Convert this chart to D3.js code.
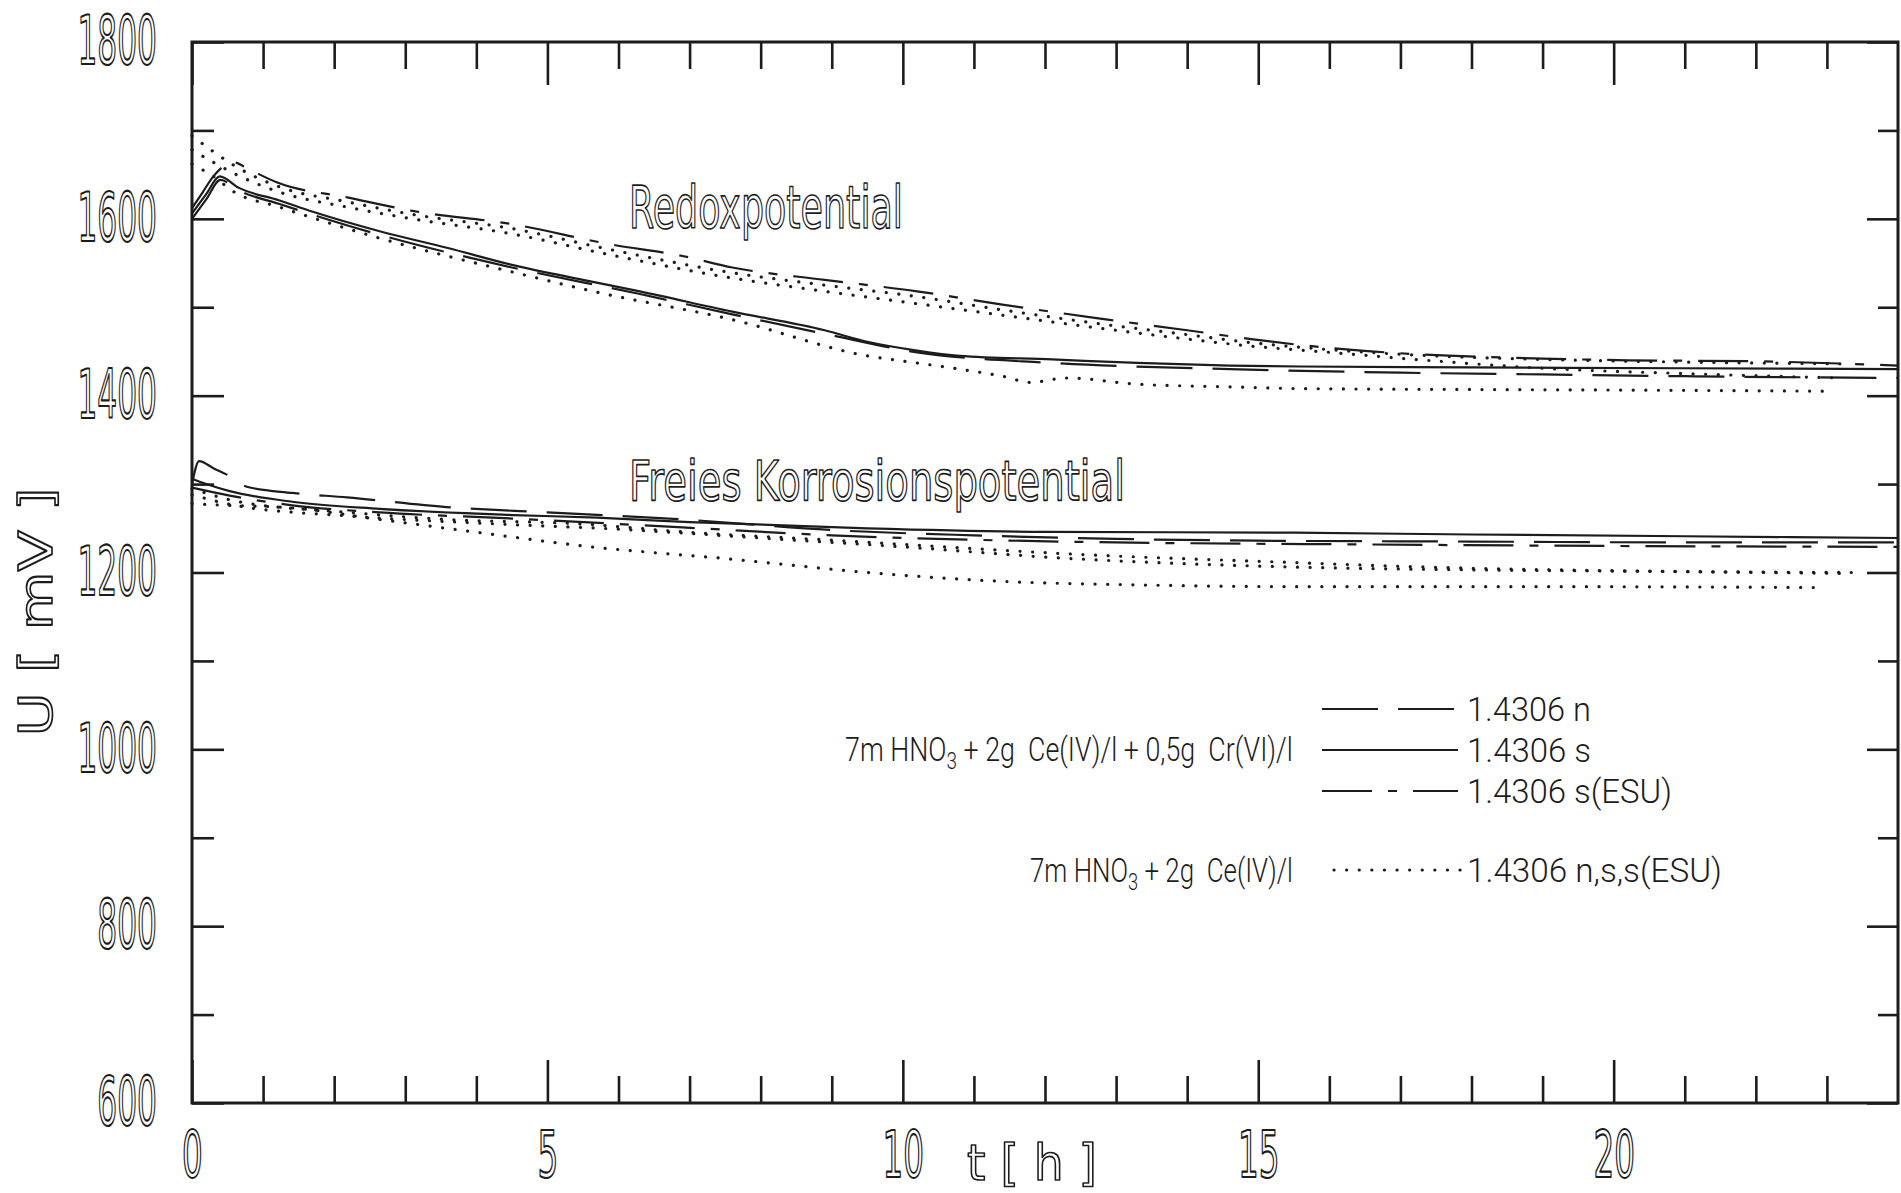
<!DOCTYPE html>
<html><head><meta charset="utf-8">
<script src="https://cdn.jsdelivr.net/npm/d3@7"></script>
<style>body{margin:0;background:#fff;} svg{display:block;} text{white-space:pre;}</style>
</head><body>
<svg id="c" width="1901" height="1193"></svg>
<script>
// ---------- data: [t (h), U (mV)] ----------
// Redoxpotential, 7m HNO3 + 2g Ce(IV)/l + 0,5g Cr(VI)/l
const redoxN = [[0,1600],[0.2,1622],[0.4,1644],[0.66,1632],[1.22,1617],[2.64,1582],[4.5,1545],[6.3,1515],[7.6,1492],[8.9,1470],[10.2,1449],[12.1,1437],[14.6,1430],[17,1426],[19,1424],[21,1422],[24,1420]];
const redoxS = [[0,1606],[0.2,1628],[0.39,1648],[0.66,1635],[1.22,1621],[1.7,1608],[2.64,1586],[3.6,1567],[4.5,1548],[5.5,1531],[6.3,1518],[7.6,1495],[8.9,1474],[9.5,1461],[10.2,1451],[10.8,1445],[12.1,1441],[13.3,1437],[14.6,1434],[15.6,1433],[18,1432],[21,1431],[24,1430]];
const redoxSESU = [[0,1612],[0.15,1630],[0.3,1648],[0.58,1664],[0.8,1656],[1.2,1641],[2.2,1624],[3.1,1609],[4.5,1594],[5.9,1571],[6.9,1558],[7.6,1545],[8.9,1531],[10.2,1518],[11.4,1503],[12.7,1488],[14,1474],[14.9,1464],[16,1454],[17.2,1447],[19,1442],[20.2,1440],[21.9,1439],[24,1434]];
// Redoxpotential, 7m HNO3 + 2g Ce(IV)/l (dotted)
const redoxDotN = [[0,1694],[0.3,1676],[0.6,1660],[1.2,1637],[2.2,1619],[3.1,1605],[4.5,1589],[5.9,1565],[7.6,1539],[8.9,1525],[10.2,1512],[11.4,1497],[12.7,1482],[14,1469],[14.9,1460],[16,1452],[17.2,1446],[19,1441],[21,1438],[23.2,1436]];
const redoxDotS = [[0,1678],[0.3,1664],[0.6,1651],[1.2,1631],[2.2,1613],[3.1,1600],[4.5,1583],[5.9,1559],[7.6,1533],[8.9,1518],[10.2,1504],[11.4,1491],[12.7,1477],[14,1464],[14.9,1456],[16,1449],[17.2,1441],[19,1431],[21,1425],[23.2,1420]];
const redoxDotSESU = [[0,1662],[0.3,1648],[0.6,1630],[1.2,1614],[2.6,1579],[4.5,1540],[5.7,1517],[7.6,1486],[9.5,1445],[10.2,1437],[10.8,1430],[11.4,1422],[11.8,1415],[12.3,1420],[13.3,1413],[14.6,1410],[15.6,1408],[18,1407],[21,1406],[23.1,1405]];
// Freies Korrosionspotential
const korrN = [[0,1300],[0.1,1326],[0.3,1318],[0.53,1309],[0.77,1297],[1.41,1290],[2.18,1285],[3.58,1274],[5,1268],[6.9,1260],[9,1248],[11,1242],[13,1238],[15,1236],[18,1235],[21,1234],[24,1234]];
const korrS = [[0,1306],[0.2,1300],[0.53,1292],[1.41,1280],[2.64,1272],[4.52,1265],[5.7,1262],[7,1257],[9.5,1250],[12,1246],[15.5,1245],[18,1243],[21,1241],[24,1239]];
const korrSESU = [[0,1296],[0.53,1287],[1.41,1276],[2.64,1268],[4.52,1261],[6.9,1251],[9,1242],[11,1237],[13,1234],[16,1232],[20,1230],[24,1229]];
const korrDotN = [[0,1295],[0.6,1281],[2.18,1268],[3.58,1260],[5.46,1255],[6.9,1246],[8.9,1237],[10.8,1228],[12.1,1222],[15.6,1211],[17,1207],[20,1202],[23.4,1200]];
const korrDotS = [[0,1288],[0.6,1276],[2.18,1264],[4,1256],[6,1249],[8,1239],[10,1229],[12.1,1217],[15.6,1206],[18,1203],[21,1201],[23.2,1199]];
const korrDotSESU = [[0,1278],[0.2,1277],[1.41,1273],[2.64,1260],[4.05,1245],[5.5,1230],[7.6,1215],[9.5,1200],[11.4,1190],[13.3,1186],[15.6,1184],[19,1184],[22.9,1183]];

// ticks and labels
const xMajorTicks = [0,5,10,15,20];
const xMinorTicks = [1,2,3,4,6,7,8,9,11,12,13,14,16,17,18,19,21,22,23];
const yMajorTicks = [600,800,1000,1200,1400,1600,1800];
const yMinorTicks = [700,900,1100,1300,1500,1700];
const curveLabels = ["Redoxpotential","Freies Korrosionspotential"];
const legendSeries = ["1.4306 n","1.4306 s","1.4306 s(ESU)","1.4306 n,s,s(ESU)"];

// ---------- drawing ----------
const svg = d3.select("#c");
const X0 = 192, X1 = 1898, Y0 = 42, Y1 = 1103;
const x = d3.scaleLinear().domain([0,24]).range([X0,X1]);
const y = d3.scaleLinear().domain([600,1800]).range([Y1,Y0]);
const ink = "#1c1c1c";

svg.append("rect").attr("x",X0).attr("y",Y0).attr("width",X1-X0).attr("height",Y1-Y0)
  .attr("fill","none").attr("stroke",ink).attr("stroke-width",3);

function axisStyle(g){ g.select(".domain").remove(); g.selectAll(".tick line").attr("stroke",ink).attr("stroke-width",2.6); }
const digitFont = "'DejaVu Sans', sans-serif";
function hollow(sel){ sel.attr("fill","#fff").attr("stroke",ink).attr("stroke-width",2.2).attr("stroke-linejoin","round"); }

// bottom
svg.append("g").attr("transform",`translate(0,${Y1})`)
  .call(d3.axisBottom(x).tickValues(xMinorTicks).tickSizeInner(-27).tickSizeOuter(0).tickFormat(""))
  .call(axisStyle);
const gxb = svg.append("g").attr("transform",`translate(0,${Y1})`)
  .call(d3.axisBottom(x).tickValues(xMajorTicks).tickSizeInner(-43).tickSizeOuter(0).tickPadding(28.5).tickFormat(d3.format("d")))
  .call(axisStyle);
const sxX = 0.51;
gxb.selectAll(".tick text").attr("font-family",digitFont).attr("font-size",64)
  .attr("transform",`scale(${sxX},1)`).call(hollow);
// top
svg.append("g").attr("transform",`translate(0,${Y0})`)
  .call(d3.axisTop(x).tickValues(xMinorTicks).tickSizeInner(-27).tickSizeOuter(0).tickFormat(""))
  .call(axisStyle);
svg.append("g").attr("transform",`translate(0,${Y0})`)
  .call(d3.axisTop(x).tickValues(xMajorTicks).tickSizeInner(-43).tickSizeOuter(0).tickFormat(""))
  .call(axisStyle);
// left
svg.append("g").attr("transform",`translate(${X0},0)`)
  .call(d3.axisLeft(y).tickValues(yMinorTicks).tickSizeInner(-22).tickSizeOuter(0).tickFormat(""))
  .call(axisStyle);
const gyl = svg.append("g").attr("transform",`translate(${X0},0)`)
  .call(d3.axisLeft(y).tickValues(yMajorTicks).tickSizeInner(-32).tickSizeOuter(0).tickPadding(35).tickFormat(d3.format("d")))
  .call(axisStyle);
const sxY = 0.46;
gyl.selectAll(".tick text").attr("font-family",digitFont).attr("font-size",68)
  .attr("x",-35/sxY).attr("transform",`scale(${sxY},1)`).call(hollow);
// right
svg.append("g").attr("transform",`translate(${X1},0)`)
  .call(d3.axisRight(y).tickValues(yMinorTicks).tickSizeInner(-20).tickSizeOuter(0).tickFormat(""))
  .call(axisStyle);
svg.append("g").attr("transform",`translate(${X1},0)`)
  .call(d3.axisRight(y).tickValues(yMajorTicks).tickSizeInner(-31).tickSizeOuter(0).tickFormat(""))
  .call(axisStyle);

// text helper: fit text to a measured width with a horizontal scale
function fitText(parent, x0, yb, w, build, style){
  const g = parent.append("g").attr("transform",`translate(${x0},${yb})`);
  const t = g.append("text").attr("x",0).attr("y",0);
  style(t); build(t);
  const bw = t.node().getComputedTextLength() || t.node().getBBox().width;
  t.attr("transform",`scale(${w/bw},1)`);
  return g;
}
const outline = t => t.attr("font-family","'DejaVu Sans', sans-serif").attr("fill","#fff").attr("stroke",ink).attr("stroke-width",1.7).attr("stroke-linejoin","round");
const thin = t => t.attr("font-family","Roboto, 'DejaVu Sans', sans-serif").attr("font-weight",300).attr("fill",ink);

fitText(svg, 967, 1180, 130, t=>t.text("t [ h ]"), t=>{outline(t); t.attr("font-size",50);});
{
  const g = svg.append("g").attr("transform","translate(52,612) rotate(-90)");
  const t = g.append("text").attr("text-anchor","middle").text("U [ mV ]");
  outline(t); t.attr("font-size",46);
  const bw = t.node().getComputedTextLength();
  t.attr("transform",`scale(${249/bw},1)`);
}

fitText(svg, 629, 228, 274, t=>t.text(curveLabels[0]), t=>{outline(t); t.attr("font-size",58);});
fitText(svg, 629, 500, 496, t=>t.text(curveLabels[1]), t=>{outline(t); t.attr("font-size",56);});

// series
const line = d3.line().x(d=>x(d[0])).y(d=>y(d[1])).curve(d3.curveMonotoneX);
const styles = {
  n:   {dash:"56 20", w:2.2},
  s:   {dash:null, w:2.2},
  esu: {dash:"50 16 9 16", w:2.2},
  dot: {dash:"0.1 12.5", w:3.2}
};
const series = [
  [redoxN,"n"],[redoxS,"s"],[redoxSESU,"esu"],
  [redoxDotN,"dot"],[redoxDotS,"dot"],[redoxDotSESU,"dot"],
  [korrN,"n"],[korrS,"s"],[korrSESU,"esu"],
  [korrDotN,"dot"],[korrDotS,"dot"],[korrDotSESU,"dot"]
];
svg.append("g").selectAll("path").data(series).join("path")
  .attr("d",d=>line(d[0])).attr("fill","none").attr("stroke",ink)
  .attr("stroke-width",d=>styles[d[1]].w)
  .attr("stroke-dasharray",d=>styles[d[1]].dash)
  .attr("stroke-linecap",d=>d[1]==="dot"?"round":"butt");

// legend
const legY = [709,750,791,870];
const legKeys = ["n","s","esu","dot"];
const legW = [124,124,205,255];
const lg = svg.append("g");
legKeys.forEach((k,i)=>{
  const xs = k==="dot" ? [1334,1461] : [1322,1458];
  lg.append("line").attr("x1",xs[0]).attr("x2",xs[1]).attr("y1",legY[i]).attr("y2",legY[i])
    .attr("stroke",ink).attr("stroke-width",styles[k].w).attr("stroke-dasharray",styles[k].dash)
    .attr("stroke-linecap",k==="dot"?"round":"butt");
  fitText(lg, 1467, legY[i]+12, legW[i], t=>t.text(legendSeries[i]), t=>{thin(t); t.attr("font-size",33);});
});
function solution(t, withCr){
  t.append("tspan").text("7m HNO");
  t.append("tspan").attr("dy",8).attr("font-size",24).text("3");
  t.append("tspan").attr("dy",-8).text(withCr ? " + 2g  Ce(IV)/l + 0,5g  Cr(VI)/l" : " + 2g  Ce(IV)/l");
}
fitText(lg, 845, 761, 448, t=>solution(t,true), t=>{thin(t); t.attr("font-size",34);});
fitText(lg, 1030, 882, 263, t=>solution(t,false), t=>{thin(t); t.attr("font-size",34);});
</script>
</body></html>
